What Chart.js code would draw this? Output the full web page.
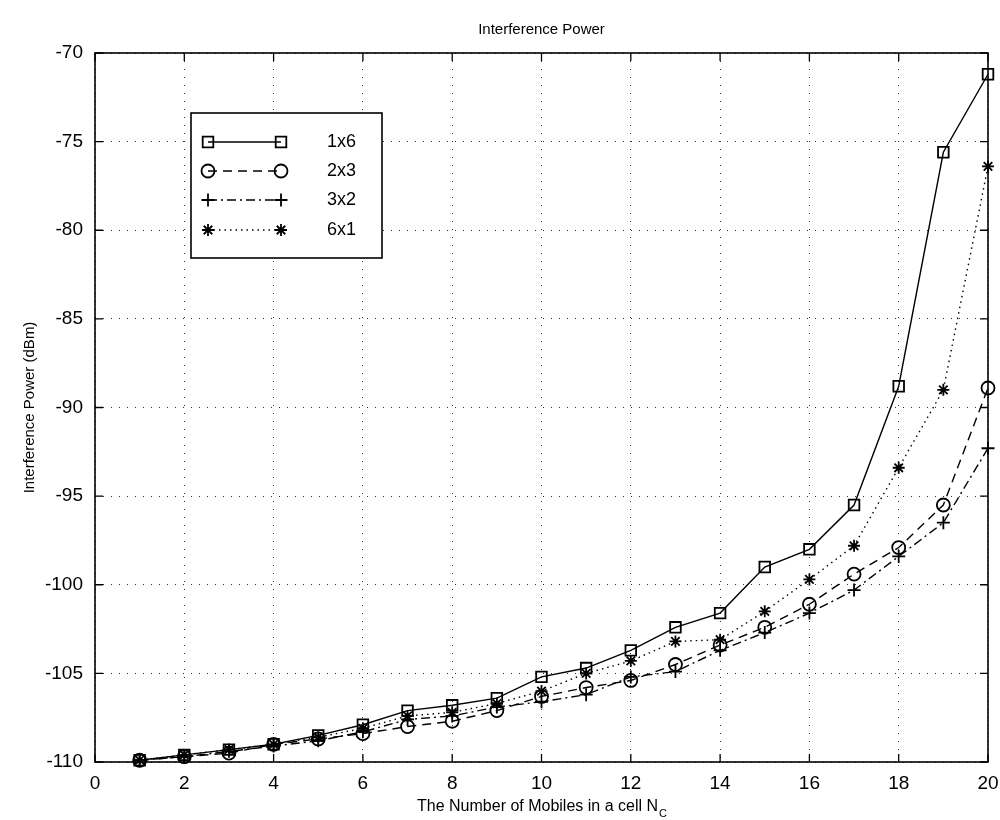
<!DOCTYPE html>
<html>
<head>
<meta charset="utf-8">
<script src="https://cdn.jsdelivr.net/npm/chart.js@4.4.1/dist/chart.umd.min.js"></script>
<style>
  html, body { margin: 0; background: #fff; }
  #wrap { width: 1000px; height: 820px; }
</style>
</head>
<body>
<div id="wrap"><canvas id="c" width="1000" height="820"></canvas></div>
<script>
// ---- Data ----
const mobiles = [1, 2, 3, 4, 5, 6, 7, 8, 9, 10, 11, 12, 13, 14, 15, 16, 17, 18, 19, 20];
const power1x6 = [-109.9, -109.6, -109.3, -109.0, -108.5, -107.9, -107.1, -106.8, -106.4, -105.2,
                  -104.7, -103.7, -102.4, -101.6, -99.0, -98.0, -95.5, -88.8, -75.6, -71.2];
const power2x3 = [-109.9, -109.7, -109.5, -109.0, -108.7, -108.4, -108.0, -107.7, -107.1, -106.3,
                  -105.8, -105.4, -104.5, -103.4, -102.4, -101.1, -99.4, -97.9, -95.5, -88.9];
const power3x2 = [-109.9, -109.7, -109.4, -109.1, -108.8, -108.3, -107.6, -107.4, -106.9, -106.6,
                  -106.2, -105.2, -104.9, -103.7, -102.7, -101.6, -100.3, -98.4, -96.5, -92.3];
const power6x1 = [-109.9, -109.6, -109.3, -109.0, -108.6, -108.1, -107.4, -107.2, -106.7, -106.0,
                  -105.0, -104.3, -103.2, -103.1, -101.5, -99.7, -97.8, -93.4, -89.0, -76.4];
const seriesNames = ['1x6', '2x3', '3x2', '6x1'];
const xTicks = [0, 2, 4, 6, 8, 10, 12, 14, 16, 18, 20];
const yTicks = [-110, -105, -100, -95, -90, -85, -80, -75, -70];

const FONT = '"Liberation Sans", Arial, Helvetica, sans-serif';

// ---- Style per series ----
const styles = [
  { dash: [],           point: 'rect',    radius: 7.5 },
  { dash: [9, 6],       point: 'circle',  radius: 6.5 },
  { dash: [9, 4, 2, 4], point: 'cross',   radius: 6.5 },
  { dash: [1.5, 4],     point: 'star',    radius: 6 }
];
const allSeries = [power1x6, power2x3, power3x2, power6x1];

const datasets = allSeries.map((vals, i) => ({
  label: seriesNames[i],
  data: mobiles.map((m, j) => ({ x: m, y: vals[j] })),
  borderColor: '#000',
  borderWidth: 1.4,
  borderDash: styles[i].dash,
  pointStyle: styles[i].point,
  pointRadius: styles[i].radius,
  pointBorderColor: '#000',
  pointBorderWidth: 1.8,
  pointBackgroundColor: 'rgba(0,0,0,0)',
  tension: 0,
  clip: 12
}));

// small marker drawer for the legend
function drawMarker(ctx, style, x, y, r) {
  ctx.beginPath();
  if (style === 'rect') {
    const s = r * Math.SQRT1_2;
    ctx.rect(x - s, y - s, 2 * s, 2 * s);
  } else if (style === 'circle') {
    ctx.arc(x, y, r, 0, Math.PI * 2);
  } else if (style === 'cross') {
    ctx.moveTo(x - r, y); ctx.lineTo(x + r, y);
    ctx.moveTo(x, y - r); ctx.lineTo(x, y + r);
  } else if (style === 'star') {
    for (let k = 0; k < 4; k++) {
      const a = k * Math.PI / 4;
      ctx.moveTo(x - r * Math.cos(a), y - r * Math.sin(a));
      ctx.lineTo(x + r * Math.cos(a), y + r * Math.sin(a));
    }
  }
  ctx.stroke();
}

// ---- Frame, inward ticks, legend, titles ----
const matlabPlugin = {
  id: 'matlab',
  afterDraw(chart) {
    const { ctx, chartArea: a, scales } = chart;
    const cx = (a.left + a.right) / 2;
    ctx.save();
    ctx.strokeStyle = '#000';
    ctx.fillStyle = '#000';
    ctx.setLineDash([]);
    ctx.lineWidth = 1.6;
    ctx.strokeRect(a.left, a.top, a.right - a.left, a.bottom - a.top);

    // inward tick marks
    const tl = 8;
    ctx.lineWidth = 1.3;
    ctx.beginPath();
    xTicks.forEach(v => {
      const px = scales.x.getPixelForValue(v);
      ctx.moveTo(px, a.bottom); ctx.lineTo(px, a.bottom - tl);
      ctx.moveTo(px, a.top); ctx.lineTo(px, a.top + tl);
    });
    yTicks.forEach(v => {
      const py = scales.y.getPixelForValue(v);
      ctx.moveTo(a.left, py); ctx.lineTo(a.left + tl, py);
      ctx.moveTo(a.right, py); ctx.lineTo(a.right - tl, py);
    });
    ctx.stroke();

    // title over the axes
    ctx.font = '15px ' + FONT;
    ctx.textAlign = 'center';
    ctx.textBaseline = 'middle';
    ctx.fillText('Interference Power', cx, 30);

    // legend box
    const box = { x: 191, y: 113, w: 191, h: 145 };
    ctx.fillStyle = '#fff';
    ctx.fillRect(box.x, box.y, box.w, box.h);
    ctx.lineWidth = 1.6;
    ctx.strokeRect(box.x, box.y, box.w, box.h);
    const rowY = [142, 171, 200, 230];
    ctx.font = '18px ' + FONT;
    ctx.textBaseline = 'middle';
    ctx.textAlign = 'left';
    seriesNames.forEach((name, i) => {
      const y = rowY[i];
      ctx.lineWidth = 1.4;
      ctx.setLineDash(styles[i].dash);
      ctx.beginPath();
      ctx.moveTo(208, y); ctx.lineTo(281, y);
      ctx.stroke();
      ctx.setLineDash([]);
      ctx.lineWidth = 1.8;
      drawMarker(ctx, styles[i].point, 208, y, styles[i].radius);
      drawMarker(ctx, styles[i].point, 281, y, styles[i].radius);
      ctx.fillStyle = '#000';
      ctx.fillText(name, 327, y);
    });

    // x axis title with subscript
    const main = 'The Number of Mobiles in a cell N';
    ctx.font = '16px ' + FONT;
    const wMain = ctx.measureText(main).width;
    ctx.font = '11px ' + FONT;
    const wSub = ctx.measureText('C').width;
    const x0 = cx - (wMain + wSub) / 2;
    ctx.textAlign = 'left';
    ctx.textBaseline = 'alphabetic';
    ctx.font = '16px ' + FONT;
    ctx.fillText(main, x0, 811);
    ctx.font = '11px ' + FONT;
    ctx.fillText('C', x0 + wMain + 1, 817);
    ctx.restore();
  }
};

// ---- Chart ----
new Chart(document.getElementById('c').getContext('2d'), {
  type: 'line',
  data: { datasets },
  plugins: [matlabPlugin],
  options: {
    responsive: false,
    animation: false,
    layout: { padding: { left: 0, right: 12, top: 53, bottom: 0 } },
    plugins: {
      legend: { display: false },
      tooltip: { enabled: false },
      title: { display: false }
    },
    scales: {
      x: {
        type: 'linear',
        min: 0, max: 20,
        afterFit: (s) => { s.height = 58; s.paddingLeft = 0; s.paddingRight = 0; },
        afterBuildTicks: (s) => { s.ticks = xTicks.map(v => ({ value: v })); },
        ticks: { color: '#000', padding: 10, font: { family: FONT, size: 19 }, maxRotation: 0 },
        grid: { color: '#333', lineWidth: 1, drawTicks: false },
        border: { display: false, dash: [1, 7] }
      },
      y: {
        min: -110, max: -70,
        afterFit: (s) => { s.width = 95; s.paddingTop = 0; s.paddingBottom = 0; },
        afterBuildTicks: (s) => { s.ticks = yTicks.map(v => ({ value: v })); },
        ticks: { color: '#000', padding: 12, font: { family: FONT, size: 19 } },
        grid: { color: '#333', lineWidth: 1, drawTicks: false },
        border: { display: false, dash: [1, 7] },
        title: {
          display: true,
          text: 'Interference Power (dBm)',
          color: '#000',
          font: { family: FONT, size: 15 },
          padding: { top: 21, bottom: 0 }
        }
      }
    }
  }
});
</script>
</body>
</html>
